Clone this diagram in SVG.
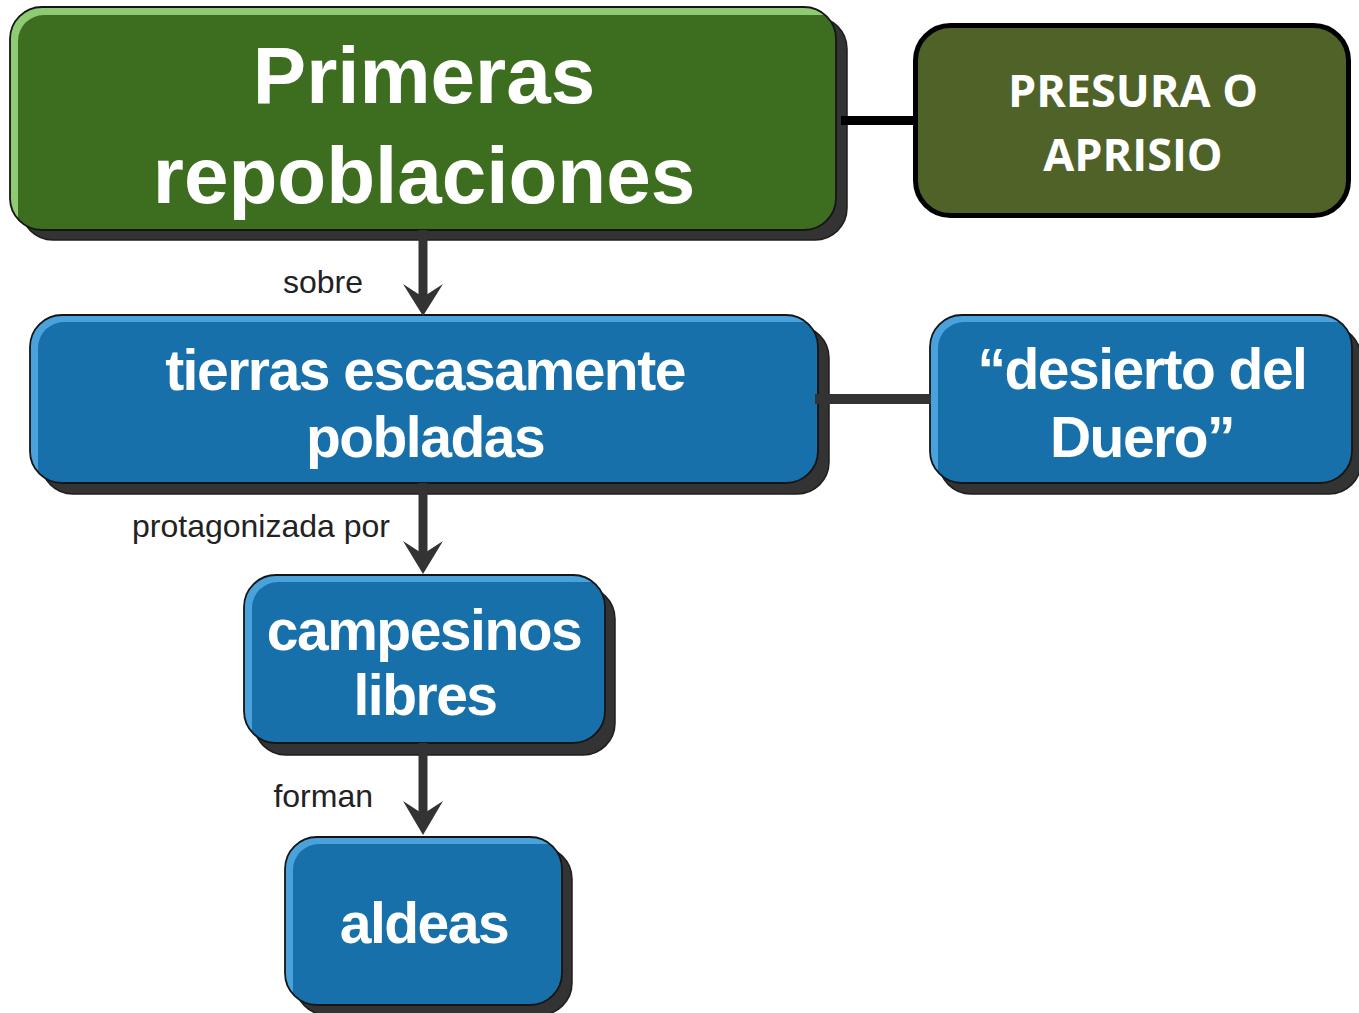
<svg xmlns="http://www.w3.org/2000/svg" width="1359" height="1013" viewBox="0 0 1359 1013">
<style>
.shadow{fill:#333333;stroke:#1e1e1e;stroke-width:1.5}
.outline{fill:none;stroke:#151515;stroke-width:1.8}
.hlg{fill:#8fcb72}
.baseg{fill:#3d6d1e}
.hlb{fill:#4aa2dc}
.baseb{fill:#1770aa}
.nt{font-family:"Liberation Sans",Arial,sans-serif;font-weight:bold;fill:#ffffff;text-anchor:middle}
.lbl{font-family:"Liberation Sans",Arial,sans-serif;font-size:32px;fill:#222222;text-anchor:end}
.shaft{stroke:#333333;stroke-width:9;fill:none}
.head{fill:#333333}
</style>
<defs>
<clipPath id="c1"><rect x="10" y="7" width="826" height="223" rx="32"/></clipPath>
<clipPath id="c3"><rect x="30" y="315" width="788" height="168" rx="32"/></clipPath>
<clipPath id="c4"><rect x="930" y="315" width="422" height="168" rx="32"/></clipPath>
<clipPath id="c5"><rect x="244" y="575" width="361" height="168" rx="32"/></clipPath>
<clipPath id="c6"><rect x="285" y="837" width="277" height="168" rx="32"/></clipPath>
</defs>

<g id="node-primeras">
<rect class="shadow" x="21" y="17" width="826" height="223" rx="32"/>
<rect class="hlg" x="10" y="7" width="826" height="223" rx="32"/>
<rect class="baseg" x="18" y="15" width="850" height="250" rx="26" clip-path="url(#c1)"/>
<rect class="outline" x="10" y="7" width="826" height="223" rx="32"/>
<text class="nt" x="424" y="103" font-size="80">Primeras</text>
<text class="nt" x="424" y="203" font-size="80">repoblaciones</text>
</g>

<g id="node-presura">
<rect x="915.5" y="25.5" width="433" height="190" rx="35" fill="#4f6228" stroke="#000000" stroke-width="5"/>
<text x="1133" y="107" font-family="'Open Sans','Noto Sans',sans-serif" font-weight="bold" font-size="45" fill="#ffffff" text-anchor="middle">PRESURA O</text>
<text x="1133" y="171" font-family="'Open Sans','Noto Sans',sans-serif" font-weight="bold" font-size="45" fill="#ffffff" text-anchor="middle">APRISIO</text>
</g>

<g id="node-tierras">
<rect class="shadow" x="41" y="326" width="788" height="168" rx="32"/>
<rect class="hlb" x="30" y="315" width="788" height="168" rx="32"/>
<rect class="baseb" x="38" y="322" width="810" height="190" rx="26" clip-path="url(#c3)"/>
<rect class="outline" x="30" y="315" width="788" height="168" rx="32"/>
<text class="nt" x="425" y="390" font-size="57" letter-spacing="-1.5">tierras escasamente</text>
<text class="nt" x="425" y="457" font-size="57" letter-spacing="-1.5">pobladas</text>
</g>

<g id="node-desierto">
<rect class="shadow" x="939" y="326" width="422" height="168" rx="32"/>
<rect class="hlb" x="930" y="315" width="422" height="168" rx="32"/>
<rect class="baseb" x="938" y="322" width="440" height="190" rx="26" clip-path="url(#c4)"/>
<rect class="outline" x="930" y="315" width="422" height="168" rx="32"/>
<text class="nt" x="1142" y="389" font-size="57" letter-spacing="-1.5">“desierto del</text>
<text class="nt" x="1142" y="457" font-size="57" letter-spacing="-1.5">Duero”</text>
</g>

<g id="node-campesinos">
<rect class="shadow" x="254" y="587" width="361" height="168" rx="32"/>
<rect class="hlb" x="244" y="575" width="361" height="168" rx="32"/>
<rect class="baseb" x="252" y="582" width="380" height="190" rx="26" clip-path="url(#c5)"/>
<rect class="outline" x="244" y="575" width="361" height="168" rx="32"/>
<text class="nt" x="424" y="650" font-size="57" letter-spacing="-1.5">campesinos</text>
<text class="nt" x="425" y="715" font-size="57" letter-spacing="-1.5">libres</text>
</g>

<g id="node-aldeas">
<rect class="shadow" x="295" y="847" width="277" height="168" rx="32"/>
<rect class="hlb" x="285" y="837" width="277" height="168" rx="32"/>
<rect class="baseb" x="293" y="844" width="300" height="190" rx="26" clip-path="url(#c6)"/>
<rect class="outline" x="285" y="837" width="277" height="168" rx="32"/>
<text class="nt" x="424" y="943" font-size="57" letter-spacing="-1.5">aldeas</text>
</g>

<g id="connectors">
<line x1="841" y1="120.5" x2="916" y2="120.5" stroke="#000000" stroke-width="9"/>
<line x1="815" y1="399" x2="931" y2="399" stroke="#333333" stroke-width="10"/>
<line class="shaft" x1="423" y1="230" x2="423" y2="300"/>
<path class="head" d="M403,284 L423,316 L443,284 L423,297 Z"/>
<text class="lbl" x="363" y="293">sobre</text>
<line class="shaft" x1="423" y1="483" x2="423" y2="556"/>
<path class="head" d="M403,541 L423,574 L443,541 L423,554 Z"/>
<text class="lbl" x="390" y="537">protagonizada por</text>
<line class="shaft" x1="423" y1="743" x2="423" y2="817"/>
<path class="head" d="M403,801 L423,835 L443,801 L423,814 Z"/>
<text class="lbl" x="373" y="807">forman</text>
</g>
</svg>
